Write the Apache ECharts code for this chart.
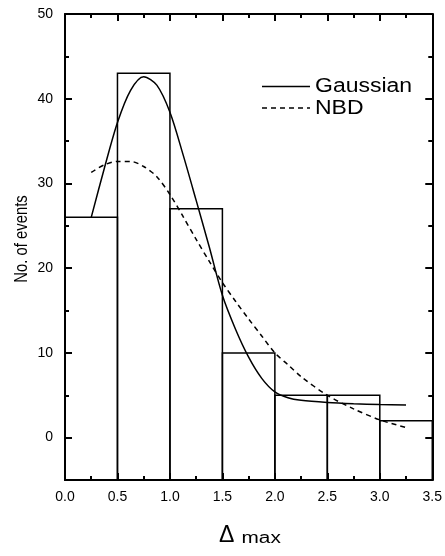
<!DOCTYPE html>
<html>
<head>
<meta charset="utf-8">
<script src="https://cdn.jsdelivr.net/npm/echarts@6/dist/echarts.min.js"></script>
<style>
html,body{margin:0;padding:0;background:#fff;}
#chart{width:445px;height:556px;}
</style>
</head>
<body>
<div id="chart"></div>
<script>
// ---- data ----
const binEdges = [0, 0.5, 1.0, 1.5, 2.0, 2.5, 3.0, 3.5];
const counts = [26, 43, 27, 10, 5, 5, 2];

const gaussX = [0.25, 0.375, 0.5, 0.625, 0.75, 0.875, 1.0, 1.125, 1.25, 1.375, 1.5, 1.625, 1.75, 1.875, 2.0, 2.125, 2.25, 2.5, 2.75, 3.0, 3.25];
const gaussY = [26.0, 31.8, 37.2, 41.0, 42.6, 41.6, 38.4, 33.4, 28.0, 22.5, 16.8, 12.8, 9.5, 7.0, 5.4, 4.7, 4.4, 4.15, 4.0, 3.9, 3.85];

const nbdX = [0.25, 0.375, 0.5, 0.625, 0.75, 0.875, 1.0, 1.125, 1.25, 1.375, 1.5, 1.625, 1.75, 1.875, 2.0, 2.125, 2.25, 2.5, 2.75, 3.0, 3.25];
const nbdY = [31.3, 32.2, 32.6, 32.6, 32.0, 30.8, 28.7, 26.1, 23.4, 20.8, 18.3, 16.1, 14.0, 12.0, 10.0, 8.6, 7.2, 5.0, 3.4, 2.1, 1.2];

const yMajorTicks = [0, 10, 20, 30, 40, 50];
const yMinorTicks = [5, 15, 25, 35, 45];
const seriesNames = ['Gaussian', 'NBD'];
const xTitle = ['\u0394', 'max'];
const yTitle = 'No. of events';

// ---- chart ----
const X_MIN = 0, X_MAX = 3.5, Y_MIN = -5, Y_MAX = 50;
const FONT = '"Liberation Sans", Arial, sans-serif';
const black = '#000';

const chart = echarts.init(document.getElementById('chart'), null, {renderer: 'canvas'});

function xAxisDef(pos, showLabel) {
  return {
    type: 'value', position: pos, min: X_MIN, max: X_MAX, interval: 0.5,
    axisLine: {show: true, onZero: false, lineStyle: {color: black, width: 2}},
    axisTick: {show: true, inside: true, length: 7, lineStyle: {color: black, width: 2}},
    minorTick: {show: true, splitNumber: 2, length: 4, lineStyle: {color: black, width: 2}},
    axisLabel: {show: showLabel, color: black, fontSize: 14, fontFamily: FONT, margin: 10,
      formatter: v => v.toFixed(1)},
    splitLine: {show: false}, minorSplitLine: {show: false}
  };
}
function yAxisDef(pos, showLine, ticks, len, showLabel) {
  return {
    type: 'value', position: pos, min: Y_MIN, max: Y_MAX,
    axisLine: {show: showLine, onZero: false, lineStyle: {color: black, width: 2}},
    axisTick: {show: true, inside: true, length: len, customValues: ticks, lineStyle: {color: black, width: 2}},
    axisLabel: {show: showLabel, customValues: ticks, color: black, fontSize: 14, fontFamily: FONT, margin: 12},
    splitLine: {show: false}
  };
}

const option = {
  animation: false,
  backgroundColor: '#fff',
  textStyle: {fontFamily: FONT},
  grid: {left: 65, right: 11, top: 14, bottom: 76, containLabel: false},
  xAxis: [xAxisDef('bottom', true), xAxisDef('top', false)],
  yAxis: [
    yAxisDef('left', true, yMajorTicks, 7, true),
    yAxisDef('left', false, yMinorTicks, 4, false),
    yAxisDef('right', true, yMajorTicks, 7, false),
    yAxisDef('right', false, yMinorTicks, 4, false)
  ],
  series: [
    {
      type: 'custom', xAxisIndex: 0, yAxisIndex: 0,
      data: counts.map((c, i) => [binEdges[i], binEdges[i + 1], c]),
      encode: {x: [0, 1], y: 2},
      renderItem: function (params, api) {
        const p0 = api.coord([api.value(0), Y_MIN]);
        const p1 = api.coord([api.value(1), api.value(2)]);
        return {
          type: 'rect',
          shape: {x: p0[0], y: p1[1], width: p1[0] - p0[0], height: p0[1] - p1[1]},
          style: {fill: 'none', stroke: black, lineWidth: 1.5}
        };
      },
      z: 2
    },
    {
      name: seriesNames[0], type: 'line', xAxisIndex: 0, yAxisIndex: 0,
      data: gaussX.map((x, i) => [x, gaussY[i]]),
      smooth: 0.3, showSymbol: false, symbol: 'none',
      lineStyle: {color: black, width: 1.5}, z: 3
    },
    {
      name: seriesNames[1], type: 'line', xAxisIndex: 0, yAxisIndex: 0,
      data: nbdX.map((x, i) => [x, nbdY[i]]),
      smooth: 0.3, showSymbol: false, symbol: 'none',
      lineStyle: {color: black, width: 1.5, type: [5, 4]}, z: 3
    }
  ],
  graphic: [
    // legend
    {type: 'line', shape: {x1: 262, y1: 86.5, x2: 310, y2: 86.5}, style: {stroke: black, lineWidth: 1.5}},
    {type: 'text', x: 315, y: 86.5, scaleX: 1.15,
      style: {text: seriesNames[0], font: '20px ' + FONT, fill: black, align: 'left', verticalAlign: 'middle', textAlign: 'left', textVerticalAlign: 'middle'}},
    {type: 'line', shape: {x1: 262, y1: 108, x2: 310, y2: 108}, style: {stroke: black, lineWidth: 1.5, lineDash: [5, 4]}},
    {type: 'text', x: 315, y: 108.7, scaleX: 1.15,
      style: {text: seriesNames[1], font: '20px ' + FONT, fill: black, align: 'left', verticalAlign: 'middle', textAlign: 'left', textVerticalAlign: 'middle'}},
    // y-axis title
    {type: 'text', x: 22, y: 239, rotation: Math.PI / 2, scaleX: 0.78,
      style: {text: yTitle, font: '19px ' + FONT, fill: black, align: 'center', verticalAlign: 'middle', textAlign: 'center', textVerticalAlign: 'middle'}},
    // x-axis title
    {type: 'text', x: 219, y: 536, 
      style: {text: xTitle[0], font: '23px ' + FONT, fill: black, align: 'left', verticalAlign: 'middle', textAlign: 'left', textVerticalAlign: 'middle'}},
    {type: 'text', x: 241.5, y: 539, scaleX: 1.3,
      style: {text: xTitle[1], font: '16px ' + FONT, fill: black, align: 'left', verticalAlign: 'middle', textAlign: 'left', textVerticalAlign: 'middle'}}
  ]
};
chart.setOption(option);
</script>
</body>
</html>
